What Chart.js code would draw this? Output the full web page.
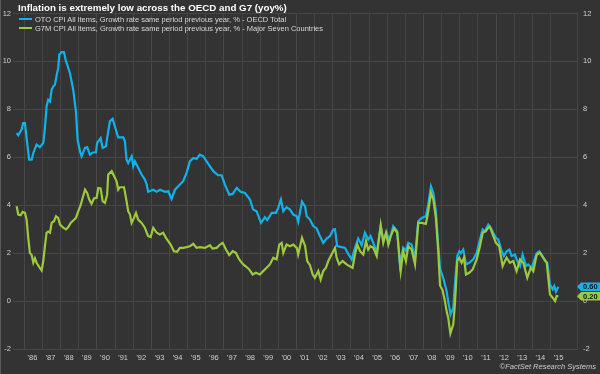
<!DOCTYPE html>
<html>
<head>
<meta charset="utf-8">
<script src="https://cdn.jsdelivr.net/npm/chart.js@4.4.1/dist/chart.umd.min.js"></script>
<style>
  body { margin: 0; background: #333333; }
  #wrap { position: relative; width: 600px; height: 374px; background: #333333; font-family: "Liberation Sans", Arial, sans-serif; }
  #wrap canvas { position: absolute; left: 0; top: 0; }
  #edge { position: absolute; left: 0; top: 0; width: 1px; height: 374px; background: #5a5a5a; }
  #title { position: absolute; left: 18px; top: 1.5px; font-weight: bold; font-size: 9.75px; line-height: 12px; color: #ffffff; white-space: nowrap; }
  .leg { position: absolute; left: 19px; font-size: 7.5px; line-height: 9px; color: #d8d8d8; white-space: nowrap; }
  .leg i { display: inline-block; width: 13px; height: 2px; margin-right: 3px; vertical-align: 2px; }
  #credit { position: absolute; right: 4px; top: 362px; font-size: 7.5px; line-height: 9px; font-style: italic; color: #cfcfcf; }
</style>
</head>
<body>
<div id="wrap">
  <canvas id="cpiChart" width="600" height="374"></canvas>
  <div id="edge"></div>
  <div id="title">Inflation is extremely low across the OECD and G7 (yoy%)</div>
  <div class="leg" style="top:14.5px"><i style="background:#14b0ea"></i>OTO CPI All items, Growth rate same period previous year, % - OECD Total</div>
  <div class="leg" style="top:24px"><i style="background:#9dc93c"></i>G7M CPI All items, Growth rate same period previous year, % - Major Seven Countries</div>
  <div id="credit">©FactSet Research Systems</div>
</div>
<script>
// OECD total, yoy % (dates as decimal years)
var oecdYears = [
  1985.57, 1985.66, 1985.85, 1985.93,
  1986.03, 1986.12, 1986.26, 1986.40, 1986.49, 1986.67, 1986.85,
  1987.04, 1987.13, 1987.22, 1987.31, 1987.41, 1987.50, 1987.59, 1987.68, 1987.78, 1987.86, 1987.92,
  1988.05, 1988.18, 1988.27, 1988.36, 1988.51, 1988.69, 1988.84, 1988.93,
  1989.06, 1989.15, 1989.34, 1989.46, 1989.61, 1989.76, 1989.94,
  1990.01, 1990.20, 1990.31, 1990.49, 1990.62, 1990.71, 1990.86,
  1991.04, 1991.17, 1991.45, 1991.54, 1991.63, 1991.72, 1991.91,
  1992.00, 1992.09, 1992.27, 1992.46, 1992.64, 1992.74, 1992.82,
  1993.10, 1993.29, 1993.47, 1993.75, 1993.93,
  1994.11, 1994.30, 1994.48, 1994.75, 1994.94,
  1995.12, 1995.31, 1995.49, 1995.67, 1995.86,
  1996.04, 1996.41, 1996.68, 1996.87,
  1997.05, 1997.29, 1997.48, 1997.70, 1997.92,
  1998.16, 1998.43, 1998.61, 1998.80,
  1999.04, 1999.26, 1999.38, 1999.63, 1999.86, 1999.99,
  2000.14, 2000.27, 2000.45, 2000.64, 2000.82,
  2001.01, 2001.09, 2001.30, 2001.47, 2001.56, 2001.74, 2001.92,
  2002.11, 2002.29, 2002.47, 2002.66, 2002.84,
  2003.02, 2003.12, 2003.24, 2003.49, 2003.67, 2003.85,
  2004.04, 2004.22, 2004.40, 2004.59, 2004.77, 2004.95,
  2005.08, 2005.23, 2005.42, 2005.64, 2005.78, 2005.97,
  2006.11, 2006.33, 2006.55, 2006.70, 2006.88,
  2007.03, 2007.16, 2007.34, 2007.53, 2007.71, 2007.90,
  2008.13, 2008.26, 2008.41, 2008.54, 2008.68, 2008.81, 2008.91,
  2009.09, 2009.27, 2009.36, 2009.49, 2009.64, 2009.73, 2009.86, 2009.97,
  2010.06, 2010.19, 2010.34, 2010.52, 2010.74, 2010.93,
  2011.11, 2011.26, 2011.39, 2011.57, 2011.70, 2011.84, 2011.99,
  2012.12, 2012.31, 2012.43, 2012.58, 2012.73, 2012.86,
  2013.04, 2013.17, 2013.32, 2013.46, 2013.65, 2013.77, 2013.96,
  2014.10, 2014.24, 2014.38, 2014.51, 2014.69, 2014.82, 2014.97,
  2015.12, 2015.21, 2015.30, 2015.43
];
var oecdValues = [
  7.01, 6.92, 7.17, 7.43,
  7.43, 6.8, 5.9, 5.9, 6.18, 6.53, 6.42,
  6.6, 7.22, 8.12, 8.4, 8.33, 8.82, 8.96, 9.03, 9.44, 9.72, 10.28,
  10.39, 10.39, 10.07, 9.86, 9.51, 8.82, 7.92, 6.74,
  6.25, 6.04, 6.39, 6.42, 6.11, 6.2, 6.2,
  6.6, 6.8, 6.39, 6.46, 7.08, 7.5, 7.61,
  7.15, 6.83, 6.83, 6.67, 5.9, 5.76, 6.04,
  5.63, 5.83, 5.56, 5.28, 5.07, 4.86, 4.56,
  4.65, 4.56, 4.65, 4.56, 4.58,
  4.26, 4.65, 4.79, 5.0, 5.35,
  5.83, 5.97, 5.93, 6.11, 6.04,
  5.83, 5.42, 5.25, 5.25,
  4.86, 4.44, 4.47, 4.72, 4.56,
  4.51, 4.24, 3.82, 3.75,
  3.26, 3.5, 3.38, 3.68, 3.68, 3.89,
  4.24, 3.75, 3.92, 3.82, 3.61,
  3.54, 3.31, 4.15, 3.95, 3.54, 3.4, 3.13,
  3.03, 2.71, 2.43, 2.61, 2.71,
  2.99, 3.0, 2.29, 2.25, 2.22, 1.97,
  1.74, 2.22, 2.61, 2.33, 2.85, 2.57,
  2.71, 2.43, 2.01, 3.13, 2.57, 2.85,
  2.5, 3.13, 2.92, 1.53, 2.22,
  2.1, 2.43, 2.36, 1.81, 3.33, 3.47,
  3.54, 4.03, 4.79, 4.51, 3.75, 2.36, 1.35,
  0.95, 0.42, 0.0, -0.56, -0.28, 0.69, 1.88, 2.08,
  2.0, 2.15, 1.53, 1.6, 1.74, 2.01,
  2.57, 2.99, 2.92, 3.19, 3.06, 2.85, 2.64,
  2.57, 2.08, 1.88, 2.08, 2.15, 1.88,
  1.94, 1.67, 1.46, 1.94, 1.46, 1.53, 1.39,
  1.7, 2.0, 2.08, 1.94, 1.67, 1.6, 0.69,
  0.49, 0.63, 0.39, 0.60
];

// G7, yoy %
var g7Years = [
  1985.57, 1985.66, 1985.79, 1985.90,
  1986.03, 1986.12, 1986.21, 1986.30, 1986.40, 1986.49, 1986.58, 1986.67, 1986.82, 1986.95,
  1987.04, 1987.13, 1987.22, 1987.31, 1987.41, 1987.50, 1987.63, 1987.74, 1987.86, 1987.96,
  1988.14, 1988.29, 1988.41, 1988.55, 1988.69, 1988.84, 1988.97,
  1989.10, 1989.21, 1989.34, 1989.46, 1989.57, 1989.70, 1989.83, 1989.98,
  1990.07, 1990.20, 1990.31, 1990.44, 1990.56, 1990.62, 1990.81, 1990.90,
  1991.08, 1991.17, 1991.26, 1991.49, 1991.60, 1991.72, 1991.82, 1991.91,
  1992.04, 1992.15, 1992.27, 1992.46, 1992.64, 1992.82, 1992.96,
  1993.10, 1993.29, 1993.47, 1993.65, 1993.80,
  1994.06, 1994.24, 1994.42, 1994.57, 1994.75, 1994.94,
  1995.12, 1995.31, 1995.49, 1995.67, 1995.95,
  1996.23, 1996.37, 1996.60, 1996.78, 1996.93,
  1997.11, 1997.29, 1997.48, 1997.66, 1997.84,
  1998.06, 1998.25, 1998.39, 1998.58, 1998.76, 1998.98,
  1999.16, 1999.35, 1999.53, 1999.72, 1999.90,
  2000.05, 2000.18, 2000.27, 2000.45, 2000.64, 2000.82,
  2001.01, 2001.09, 2001.30, 2001.47, 2001.59, 2001.74, 2001.89,
  2002.01, 2002.20, 2002.33, 2002.47, 2002.62, 2002.75, 2002.93,
  2003.12, 2003.21, 2003.35, 2003.54, 2003.76, 2003.91,
  2004.09, 2004.22, 2004.35, 2004.50, 2004.68, 2004.83, 2004.95,
  2005.08, 2005.23, 2005.42, 2005.64, 2005.78, 2005.93,
  2006.06, 2006.19, 2006.37, 2006.55, 2006.74, 2006.88,
  2007.03, 2007.16, 2007.34, 2007.53, 2007.71, 2007.90,
  2008.13, 2008.26, 2008.41, 2008.54, 2008.68, 2008.81, 2008.91,
  2009.05, 2009.18, 2009.27, 2009.36, 2009.48, 2009.64, 2009.73, 2009.86, 2009.97,
  2010.10, 2010.23, 2010.34, 2010.52, 2010.71, 2010.93,
  2011.11, 2011.26, 2011.44, 2011.57, 2011.66, 2011.81, 2011.99,
  2012.17, 2012.36, 2012.49, 2012.58, 2012.76, 2012.95,
  2013.13, 2013.32, 2013.50, 2013.72, 2013.91,
  2014.05, 2014.24, 2014.42, 2014.60, 2014.79, 2014.97,
  2015.12, 2015.25, 2015.34, 2015.43
];
var g7Values = [
  3.96, 3.61, 3.58, 3.72,
  3.68, 3.4, 2.64, 2.01, 1.92, 1.6, 1.78, 1.6, 1.42, 1.28,
  1.67, 2.29, 2.85, 2.9, 2.85, 3.26, 3.33, 3.54, 3.47, 3.19,
  3.06, 2.99, 3.08, 3.26, 3.36, 3.47, 3.75,
  4.0, 4.31, 4.65, 4.51, 4.24, 4.06, 4.28, 4.31,
  4.72, 4.7, 4.17, 4.1, 4.44, 5.28, 5.42, 5.28,
  5.0, 4.65, 4.75, 4.75, 4.3, 3.75, 3.61, 3.26,
  3.47, 3.68, 3.4, 3.26, 3.06, 2.71, 2.67,
  3.06, 2.85, 2.78, 2.85, 2.64,
  2.36, 2.08, 2.06, 2.22, 2.22, 2.25,
  2.29, 2.39, 2.22, 2.25, 2.22,
  2.33, 2.19, 2.22, 2.36, 2.43,
  2.15, 1.92, 2.08, 2.01, 1.74,
  1.53, 1.42, 1.32, 1.11, 1.18, 1.11,
  1.25, 1.39, 1.53, 1.81, 1.74,
  2.36, 2.43, 2.01, 2.36, 2.29, 2.36,
  2.22, 1.94, 2.64, 2.3, 1.67, 1.5, 1.11,
  0.97, 1.25, 0.9, 1.25, 1.39, 1.67, 1.94,
  2.22, 1.81, 1.53, 1.67, 1.53, 1.46,
  1.39, 1.94, 2.36, 2.08, 1.94, 2.5, 2.15,
  2.29, 2.22, 1.88, 3.17, 2.43, 2.85,
  2.36, 2.71, 3.03, 2.85, 1.25, 2.08,
  1.67, 2.29, 2.15, 1.53, 3.26, 3.26,
  3.22, 3.75, 4.51, 4.24, 3.47, 2.08, 0.65,
  0.45, 0.0, -0.42, -0.69, -1.35, -0.97, -0.14, 1.67, 1.81,
  1.6, 1.81, 1.11, 1.18, 1.32, 1.74,
  2.29, 2.85, 2.92, 3.06, 3.1, 2.78, 2.43,
  2.29, 1.46, 1.67, 1.81, 1.6, 1.67,
  1.25, 1.74, 1.6, 0.97, 1.39,
  1.25, 1.94, 2.01, 1.81, 1.6, 0.28,
  0.14, 0.0, 0.21, 0.20
];

var yearTicks = [];
for (var yr = 1986; yr <= 2015; yr++) yearTicks.push(yr);

function toPoints(xs, ys) {
    return xs.map(function(x, i) { return { x: x, y: ys[i] }; });
}

var gridColor = '#464646';
var tickFont = { family: 'Liberation Sans', size: 7.5 };

// little arrow boxes with the last value, on the right edge
var endLabels = {
    id: 'endLabels',
    afterDraw: function(chart) {
        var c = chart.ctx;
        var yScale = chart.scales.y;
        var right = chart.chartArea.right;
        c.save();
        c.font = 'bold 7.5px "Liberation Sans"';
        c.textBaseline = 'middle';
        c.textAlign = 'left';
        chart.data.datasets.forEach(function(ds) {
            var last = ds.data[ds.data.length - 1];
            var py = yScale.getPixelForValue(last.y);
            var h = 8.5, x0 = right + 4;
            c.fillStyle = ds.borderColor;
            c.beginPath();
            c.moveTo(right, py);
            c.lineTo(x0, py - h / 2);
            c.lineTo(600, py - h / 2);
            c.lineTo(600, py + h / 2);
            c.lineTo(x0, py + h / 2);
            c.closePath();
            c.fill();
            c.fillStyle = '#0e1a24';
            c.fillText(last.y.toFixed(2), x0 + 2, py + 0.5);
        });
        c.restore();
    }
};

var ctx = document.getElementById('cpiChart').getContext('2d');
var cpiChart = new Chart(ctx, {
    type: 'line',
    data: {
        datasets: [{
            label: 'OTO CPI All items, Growth rate same period previous year, % - OECD Total',
            data: toPoints(oecdYears, oecdValues),
            borderColor: '#14b0ea',
            order: 1
        }, {
            label: 'G7M CPI All items, Growth rate same period previous year, % - Major Seven Countries',
            data: toPoints(g7Years, g7Values),
            borderColor: '#9dc93c',
            order: 0
        }]
    },
    options: {
        responsive: false,
        animation: false,
        layout: { padding: { top: 13.5, bottom: 8, left: 0, right: 0 } },
        elements: {
            point: { radius: 0 },
            line: { borderWidth: 2.2, tension: 0 }
        },
        plugins: {
            legend: { display: false },
            title: { display: false },
            tooltip: { enabled: false }
        },
        scales: {
            x: {
                type: 'linear',
                min: 1985.37,
                max: 2016.46,
                afterBuildTicks: function(scale) {
                    scale.ticks = yearTicks.map(function(v) { return { value: v }; });
                },
                ticks: {
                    autoSkip: false,
                    maxRotation: 0,
                    labelOffset: 8,
                    padding: 4,
                    color: '#d0d0d0',
                    font: tickFont,
                    callback: function(v) { return "'" + String(v).slice(2); }
                },
                grid: { color: gridColor, drawTicks: false },
                border: { display: false }
            },
            y: {
                position: 'left',
                min: -2,
                max: 12,
                afterFit: function(scale) { scale.width = 13; },
                ticks: { stepSize: 2, padding: 2, color: '#d0d0d0', font: tickFont },
                grid: { color: gridColor, drawTicks: false },
                border: { display: false }
            },
            y2: {
                position: 'right',
                min: -2,
                max: 12,
                afterFit: function(scale) { scale.width = 23; },
                ticks: { stepSize: 2, padding: 6, color: '#d0d0d0', font: tickFont },
                grid: { display: false, drawTicks: false },
                border: { display: true, color: gridColor }
            }
        }
    },
    plugins: [endLabels]
});
</script>
</body>
</html>
